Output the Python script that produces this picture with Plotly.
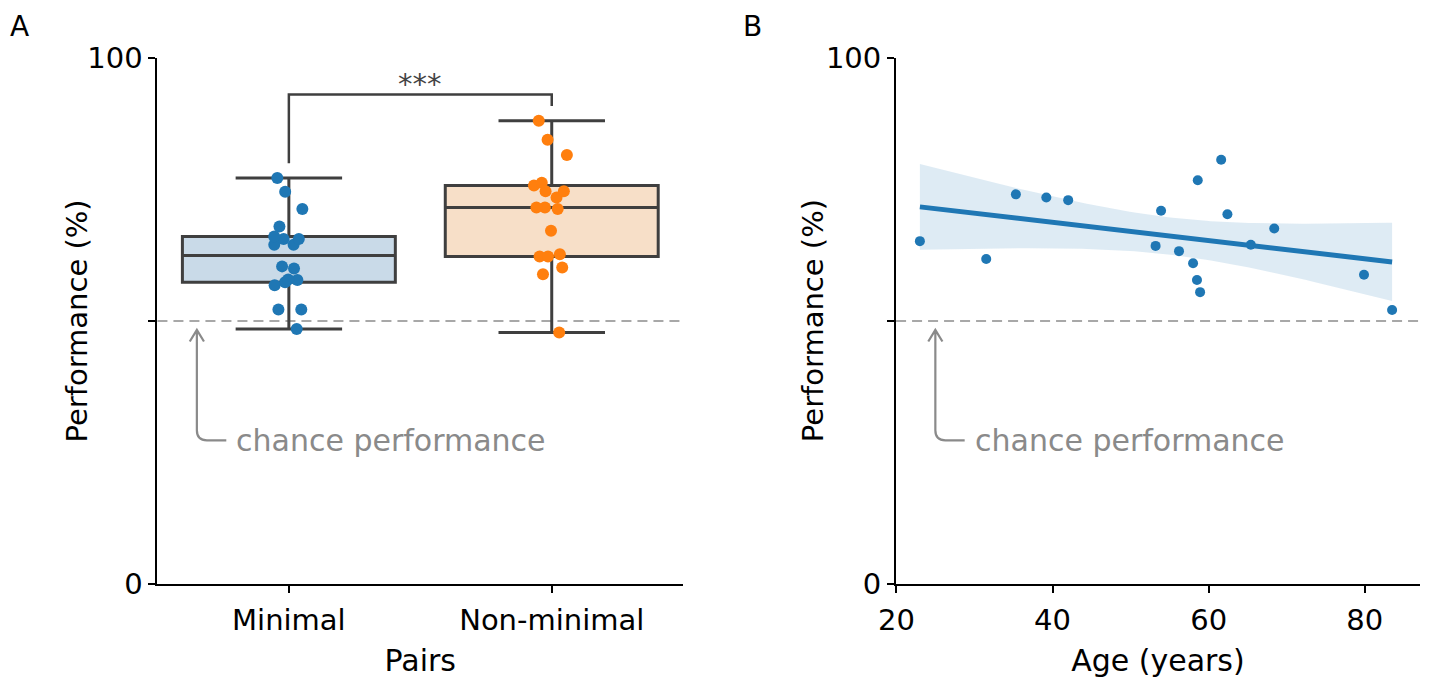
import numpy as np
import plotly.graph_objects as go

# ---------------- data ----------------
categories = ["Minimal", "Non-minimal"]
minimal_perf = [77.2, 74.6, 71.3, 68.0, 66.1, 65.6, 65.6, 64.5, 64.5,
                60.4, 60.0, 57.9, 57.8, 56.8, 57.4, 52.2, 52.2, 48.5]
nonminimal_perf = [88.1, 84.5, 81.6, 75.8, 76.3, 74.7, 74.7, 73.5, 71.6,
                   71.6, 71.3, 67.2, 62.3, 62.3, 62.7, 60.2, 58.9, 47.8]

ages = [23.0, 31.5, 35.3, 39.2, 42.0, 53.9, 53.2, 56.2, 58.0,
        58.5, 58.9, 58.6, 61.6, 62.4, 65.4, 68.4, 79.9, 83.5]
age_perf = [65.2, 61.8, 74.1, 73.5, 73.0, 71.0, 64.3, 63.3, 61.0,
            57.8, 55.5, 76.8, 80.7, 70.3, 64.5, 67.6, 58.8, 52.1]

chance_level = 50
y_ticks = [0, 50, 100]
y_tick_labels = ["0", "", "100"]
age_ticks = [20, 40, 60, 80]
significance = "***"
chance_text = "chance performance"
y_title = "Performance (%)"

# ---------------- styles ----------------
FONT = "DejaVu Sans"
BLUE = "#1f77b4"
ORANGE = "#ff7f0e"
BOX_LINE = "#3f3f3f"
GREY = "#8a8a8a"
TICK_SIZE = 29
TITLE_SIZE = 30

W, H = 1432, 683
# empirical mapping of the rendered plot area
PX0, PXW = 25.5, 1414.7
PY0, PYH = 23.6, 652.0
def fx(p):
    return (p - PX0) / PXW
def fy(p):
    return 1 - (p - PY0) / PYH

fig = go.Figure()

# ---------- Panel A: boxes, then points ----------
groups = [(categories[0], minimal_perf, "#c9dae8", BLUE),
          (categories[1], nonminimal_perf, "#f7dfc8", ORANGE)]
for cat, vals, fill, col in groups:
    fig.add_trace(go.Box(
        x=[cat] * len(vals), y=vals, name=cat,
        boxpoints=False,
        fillcolor=fill, line=dict(color=BOX_LINE, width=3),
        whiskerwidth=0.5, showlegend=False,
        xaxis="x", yaxis="y", hoverinfo="y",
    ))
for cat, vals, fill, col in groups:
    fig.add_trace(go.Box(
        x=[cat] * len(vals), y=vals, name=cat + " points",
        boxpoints="all", jitter=0.2, pointpos=0,
        fillcolor="rgba(0,0,0,0)", line=dict(color="rgba(0,0,0,0)", width=0),
        marker=dict(color=col, size=12, line=dict(width=0)),
        whiskerwidth=0, showlegend=False,
        xaxis="x", yaxis="y", hoverinfo="y",
    ))

# ---------- Panel B: regression ----------
ages_arr = np.array(ages)
perf_arr = np.array(age_perf)
coef = np.polyfit(ages_arr, perf_arr, 1)
xs = np.linspace(ages_arr.min(), ages_arr.max(), 100)
yhat = np.polyval(coef, xs)
n = len(ages_arr)
resid = perf_arr - np.polyval(coef, ages_arr)
s = np.sqrt(np.sum(resid ** 2) / (n - 2))
sxx = np.sum((ages_arr - ages_arr.mean()) ** 2)
se = s * np.sqrt(1.0 / n + (xs - ages_arr.mean()) ** 2 / sxx)
tval = 2.0
upper = yhat + tval * se
lower = yhat - tval * se

fig.add_trace(go.Scatter(x=xs, y=lower, mode="lines", line=dict(width=0),
                         showlegend=False, hoverinfo="skip", xaxis="x2", yaxis="y2"))
fig.add_trace(go.Scatter(x=xs, y=upper, mode="lines", line=dict(width=0),
                         fill="tonexty", fillcolor="rgba(31,119,180,0.15)",
                         showlegend=False, hoverinfo="skip", xaxis="x2", yaxis="y2"))
fig.add_trace(go.Scatter(x=ages, y=age_perf, mode="markers",
                         marker=dict(color=BLUE, size=10),
                         showlegend=False, xaxis="x2", yaxis="y2"))
fig.add_trace(go.Scatter(x=xs, y=yhat, mode="lines",
                         line=dict(color=BLUE, width=5),
                         showlegend=False, hoverinfo="skip", xaxis="x2", yaxis="y2"))

# ---------- shapes ----------
shapes = []
for xr, yr in [("x domain", "y"), ("x2 domain", "y2")]:
    shapes.append(dict(type="line", xref=xr, yref=yr, x0=0, x1=1,
                       y0=chance_level, y1=chance_level,
                       line=dict(color="#a8a8a8", width=2, dash="10px,6px"), layer="below"))
    ax_x = 0.075
    tip_y = chance_level - 1.7
    corner_y = 27.3
    r_x, r_y = 0.019, 1.9
    head_dx, head_dy = 0.0135, 2.2
    path = (f"M {ax_x + 0.056},{corner_y} L {ax_x + r_x},{corner_y} "
            f"Q {ax_x},{corner_y} {ax_x},{corner_y + r_y} L {ax_x},{tip_y} "
            f"M {ax_x - head_dx},{tip_y - head_dy} L {ax_x},{tip_y} L {ax_x + head_dx},{tip_y - head_dy}")
    shapes.append(dict(type="path", xref=xr, yref=yr, path=path,
                       line=dict(color=GREY, width=2.2)))

# significance bracket
gap = 2.8
top = max(nonminimal_perf) + 5
left_bottom = max(minimal_perf) + gap
right_bottom = max(nonminimal_perf) + gap
br = f"M 0,{left_bottom} L 0,{top} L 1,{top} L 1,{right_bottom}"
shapes.append(dict(type="path", xref="x", yref="y", path=br,
                   line=dict(color=BOX_LINE, width=2.5)))

annotations = [
    dict(text=significance, x=0.5, y=top, xref="x", yref="y", showarrow=False,
         xanchor="center", yanchor="bottom", yshift=-8,
         font=dict(family=FONT, size=29, color="#444444")),
    dict(text="A", x=fx(8), y=fy(25), xref="paper", yref="paper",
         xanchor="left", yanchor="middle", showarrow=False, borderpad=0,
         font=dict(family=FONT, size=28, color="black")),
    dict(text="B", x=fx(742), y=fy(25), xref="paper", yref="paper",
         xanchor="left", yanchor="middle", showarrow=False, borderpad=0,
         font=dict(family=FONT, size=28, color="black")),
]
for xr, yr in [("x domain", "y"), ("x2 domain", "y2")]:
    annotations.append(dict(text=chance_text, x=0.146, y=27.3, xref=xr, yref=yr,
                            xanchor="left", yanchor="middle", showarrow=False,
                            font=dict(family=FONT, size=30, color=GREY)))
for xc in (77, 813):
    annotations.append(dict(text=y_title, x=fx(xc), y=fy(321), xref="paper", yref="paper",
                            xanchor="center", yanchor="middle", textangle=-90, showarrow=False,
                            font=dict(family=FONT, size=29, color="black")))

axis_common = dict(showline=True, linecolor="black", linewidth=2, ticks="outside",
                   ticklen=7, tickwidth=1.8, tickcolor="black", showgrid=False,
                   zeroline=False, tickfont=dict(family=FONT, size=TICK_SIZE, color="black"),
                   mirror=False)

yA = [fy(585), fy(57)]
fig.update_layout(
    width=W, height=H,
    margin=dict(l=0, r=0, t=0, b=0),
    plot_bgcolor="white", paper_bgcolor="white",
    boxmode="overlay", boxgap=0.19, boxgroupgap=0,
    shapes=shapes, annotations=annotations,
    xaxis=dict(domain=[fx(157), fx(683)], anchor="y", type="category",
               categoryorder="array", categoryarray=categories, range=[-0.5, 1.5],
               ticklabelstandoff=2,
               title=dict(text="Pairs", font=dict(family=FONT, size=TITLE_SIZE, color="black"), standoff=14),
               **axis_common),
    yaxis=dict(domain=yA, anchor="x", range=[0, 100], tickvals=y_ticks, ticktext=y_tick_labels,
               **axis_common),
    xaxis2=dict(domain=[fx(896), fx(1420)], anchor="y2", range=[19.95, 87.05],
                tickvals=age_ticks, ticklabelstandoff=2,
                title=dict(text="Age (years)", font=dict(family=FONT, size=TITLE_SIZE, color="black"), standoff=14),
                **axis_common),
    yaxis2=dict(domain=yA, anchor="x2", range=[0, 100], tickvals=y_ticks, ticktext=y_tick_labels,
                **axis_common),
)

fig.write_html("out.html")
